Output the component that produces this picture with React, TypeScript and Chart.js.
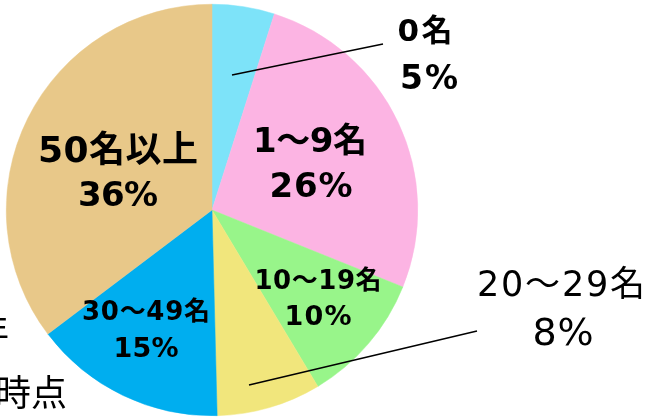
import React, { useEffect, useRef } from "react";
import { Chart, registerables } from "chart.js";

Chart.register(...registerables);

const categories = ["0名", "1～9名", "10～19名", "20～29名", "30～49名", "50名以上"];
const shares = [4.9, 26.2, 10.3, 8.2, 15.1, 35.3];
const percentLabels = ["5%", "26%", "10%", "8%", "15%", "36%"];
const sliceColors = ["#7de3f9", "#fcb4e3", "#98f58a", "#f1e67c", "#00aeef", "#e8c889"];

const FONT = '"DejaVu Sans", "Noto Sans CJK JP", sans-serif';
const CJK = '"Noto Sans CJK JP", sans-serif';

const labelPlugin = {
  id: "sliceLabels",
  afterDraw(chart: any) {
    const ctx = chart.ctx as CanvasRenderingContext2D;
    ctx.save();
    ctx.fillStyle = "#000";
    ctx.textBaseline = "middle";

    // draw text centred at (x, y), spread to the given width
    const put = (text: string, x: number, y: number, width: number, size: number, weight: string) => {
      ctx.textAlign = "center";
      ctx.font = `${weight} ${size}px ${FONT}`;
      (ctx as any).letterSpacing = "0px";
      const w = ctx.measureText(text).width;
      const n = [...text].length;
      const s = n > 1 ? (width - w) / (n - 1) : 0;
      (ctx as any).letterSpacing = `${s}px`;
      ctx.fillText(text, x + s / 2, y);
    };

    // leader lines
    ctx.strokeStyle = "#000";
    ctx.lineWidth = 1.5;
    ctx.beginPath();
    ctx.moveTo(232, 75);
    ctx.lineTo(383, 44);
    ctx.moveTo(249, 385);
    ctx.lineTo(477, 331);
    ctx.stroke();

    put(categories[0], 425, 33, 55, 31, "bold");
    put(percentLabels[0], 429, 80, 58, 33, "bold");
    put(categories[1], 310, 143, 114, 34, "bold");
    put(percentLabels[1], 311, 188, 83, 34, "bold");
    put(categories[2], 318, 282, 127, 26, "bold");
    put(percentLabels[2], 318, 318, 67, 27, "bold");
    put(categories[3], 561, 287, 168, 35, "normal");
    put(percentLabels[3], 563, 335, 61, 38, "normal");
    put(categories[4], 146, 313, 128, 26, "bold");
    put(percentLabels[4], 146, 350, 65, 27, "bold");
    put(categories[5], 118, 153, 160, 36, "bold");
    put(percentLabels[5], 118, 197, 80, 34, "bold");

    // cut-off note at the left edge
    (ctx as any).letterSpacing = "0px";
    ctx.font = `normal 34px ${CJK}`;
    ctx.textAlign = "right";
    ctx.fillText("年", 9, 330);
    ctx.font = `normal 36px ${CJK}`;
    ctx.textAlign = "left";
    ctx.fillText("時点", -5, 392);

    ctx.restore();
  },
};

export default function App() {
  const ref = useRef<HTMLCanvasElement | null>(null);
  useEffect(() => {
    if (!ref.current) return;
    const chart = new Chart(ref.current, {
      type: "pie",
      data: {
        labels: categories,
        datasets: [
          {
            data: shares,
            backgroundColor: sliceColors,
            borderColor: sliceColors,
            borderWidth: 0.5,
          },
        ],
      },
      options: {
        responsive: false,
        animation: false,
        layout: { padding: { left: 6, right: 236, top: 4, bottom: 3 } },
        plugins: {
          legend: { display: false },
          tooltip: { enabled: false },
        },
      },
      plugins: [labelPlugin],
    });
    return () => chart.destroy();
  }, []);
  return (
    <div style={{ position: "absolute", left: 0, top: 0, width: 654, height: 419, background: "#fff" }}>
      <canvas ref={ref} width={654} height={419} style={{ width: 654, height: 419 }} />
    </div>
  );
}
